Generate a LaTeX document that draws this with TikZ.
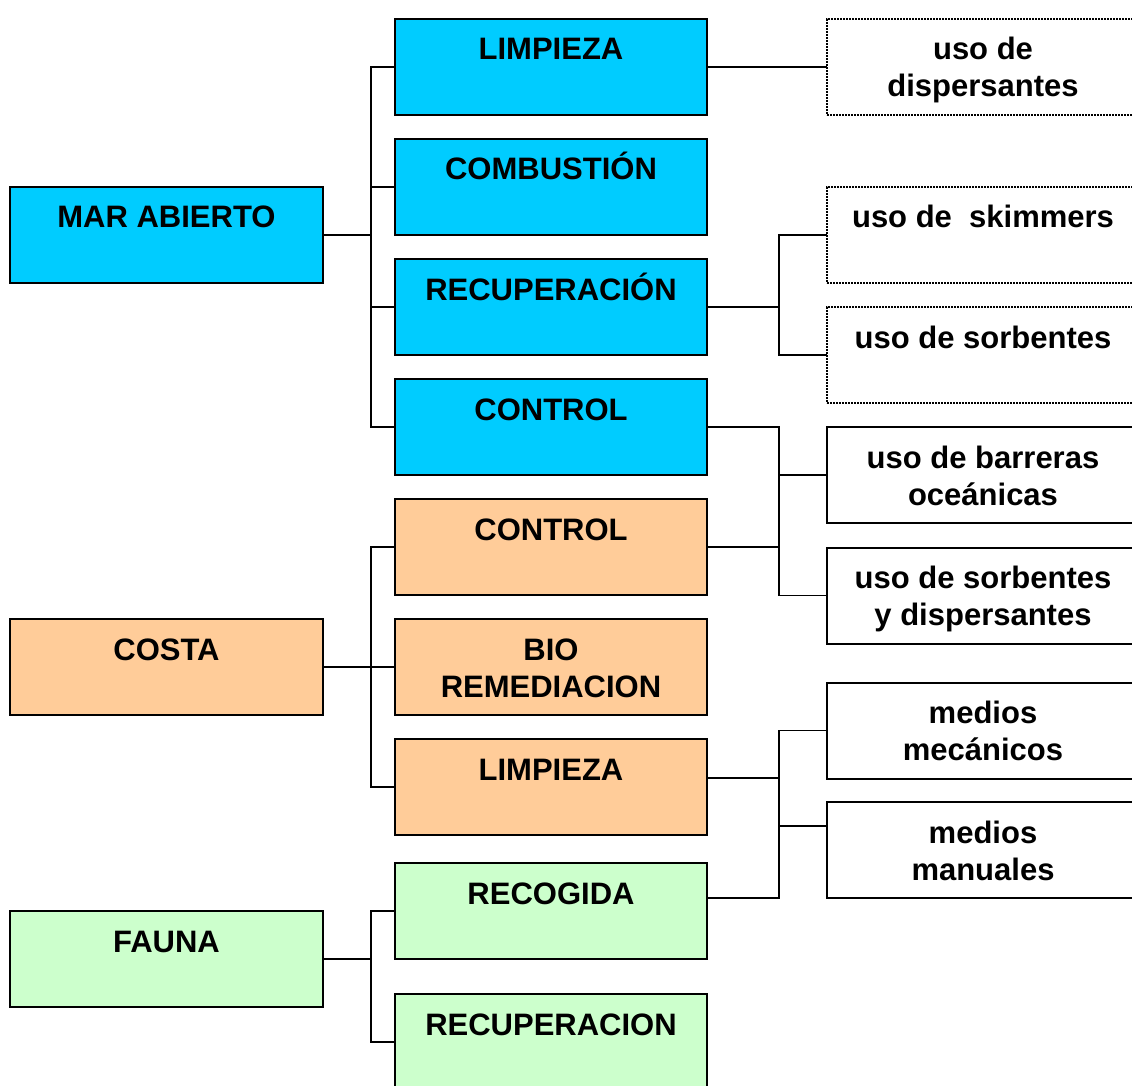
\documentclass[tikz,border=0pt]{standalone}
\usepackage{fontspec}
\setmainfont{Liberation Sans}
\usetikzlibrary{calc}
\definecolor{mblue}{RGB}{0,204,255}
\definecolor{morange}{RGB}{255,204,153}
\definecolor{mgreen}{RGB}{204,255,204}
\tikzset{
  box/.style={draw=black, line width=2pt, minimum width=312pt, minimum height=96pt, inner sep=0pt, outer sep=0pt},
  bluebox/.style={box, fill=mblue},
  orangebox/.style={box, fill=morange},
  greenbox/.style={box, fill=mgreen},
  whitebox/.style={box, fill=white},
  dotbox/.style={draw=black, line width=2pt, dash pattern=on 1.6pt off 1.4pt, fill=white, minimum width=312pt, minimum height=96pt, inner sep=0pt, outer sep=0pt},
  txt/.style={anchor=base, align=center, inner sep=0pt, font=\fontsize{31}{37}\selectfont\bfseries},
  conn/.style={draw=black, line width=1.6pt}
}
\begin{document}
\begin{tikzpicture}[x=1pt,y=-1pt]
\clip (0,0) rectangle (1132,1086);
\fill[white] (0,0) rectangle (1132,1086);
% trunk coordinates
\coordinate (tl) at (371,0);
\coordinate (tr) at (779,0);
% left boxes
\node[bluebox, minimum width=313pt] (ma) at (166.5,235) {};
\node[orangebox, minimum width=313pt] (co) at (166.5,667) {};
\node[greenbox, minimum width=313pt] (fa) at (166.5,959) {};
% middle boxes
\node[bluebox] (m1) at (551,67) {};
\node[bluebox] (m2) at (551,187) {};
\node[bluebox] (m3) at (551,307) {};
\node[bluebox] (m4) at (551,427) {};
\node[orangebox] (m5) at (551,547) {};
\node[orangebox] (m6) at (551,667) {};
\node[orangebox] (m7) at (551,787) {};
\node[greenbox] (m8) at (551,911) {};
\node[greenbox] (m9) at (551,1042) {};
% right boxes
\node[dotbox] (r1) at (983,67) {};
\node[dotbox] (r2) at (983,235) {};
\node[dotbox] (r3) at (983,355) {};
\node[whitebox] (r4) at (983,475) {};
\node[whitebox] (r5) at (983,595.5) {};
\node[whitebox] (r6) at (983,730.5) {};
\node[whitebox] (r7) at (983,850) {};
% texts (base = baseline of last line)
\node[txt] (tma) at ($(ma.north)+(0,41)$) {MAR ABIERTO};
\node[txt] (tco) at ($(co.north)+(0,41)$) {COSTA};
\node[txt] (tfa) at ($(fa.north)+(0,41)$) {FAUNA};
\node[txt] (tm1) at ($(m1.north)+(0,41)$) {LIMPIEZA};
\node[txt] (tm2) at ($(m2.north)+(0,41)$) {COMBUSTIÓN};
\node[txt] (tm3) at ($(m3.north)+(0,41)$) {RECUPERACIÓN};
\node[txt] (tm4) at ($(m4.north)+(0,41)$) {CONTROL};
\node[txt] (tm5) at ($(m5.north)+(0,41)$) {CONTROL};
\node[txt] (tm6) at ($(m6.north)+(0,78)$) {BIO\\REMEDIACION};
\node[txt] (tm7) at ($(m7.north)+(0,41)$) {LIMPIEZA};
\node[txt] (tm8) at ($(m8.north)+(0,41)$) {RECOGIDA};
\node[txt] (tm9) at ($(m9.north)+(0,41)$) {RECUPERACION};
\node[txt] (tr1) at ($(r1.north)+(0,78)$) {uso de\\dispersantes};
\node[txt] (tr2) at ($(r2.north)+(0,41)$) {uso de\ \ skimmers};
\node[txt] (tr3) at ($(r3.north)+(0,41)$) {uso de sorbentes};
\node[txt] (tr4) at ($(r4.north)+(0,78)$) {uso de barreras\\oceánicas};
\node[txt] (tr5) at ($(r5.north)+(0,78)$) {uso de sorbentes\\y dispersantes};
\node[txt] (tr6) at ($(r6.north)+(0,78)$) {medios\\mecánicos};
\node[txt] (tr7) at ($(r7.north)+(0,78)$) {medios\\manuales};
% left connectors
\draw[conn] (ma.east) -- (ma.east -| tl);
\draw[conn] (m1.west) -- (m1.west -| tl) -- (m4.west -| tl) -- (m4.west);
\draw[conn] (m2.west) -- (m2.west -| tl);
\draw[conn] (m3.west) -- (m3.west -| tl);
\draw[conn] (co.east) -- (co.east -| tl);
\draw[conn] (m5.west) -- (m5.west -| tl) -- (m7.west -| tl) -- (m7.west);
\draw[conn] (m6.west) -- (m6.west -| tl);
\draw[conn] (fa.east) -- (fa.east -| tl);
\draw[conn] (m8.west) -- (m8.west -| tl) -- (m9.west -| tl) -- (m9.west);
% right connectors
\draw[conn] (m1.east) -- (r1.west);
\draw[conn] (m3.east) -- (m3.east -| tr);
\draw[conn] (r2.west) -- (r2.west -| tr) -- (r3.west -| tr) -- (r3.west);
\draw[conn] (m4.east) -- (m4.east -| tr) -- (r5.west -| tr) -- (r5.west);
\draw[conn] (m5.east) -- (m5.east -| tr);
\draw[conn] (r4.west) -- (r4.west -| tr);
\coordinate (m7o) at ($(m7.east)+(0,-9)$);
\coordinate (m8o) at ($(m8.east)+(0,-13)$);
\coordinate (r7o) at ($(r7.west)+(0,-24)$);
\draw[conn] (m7o) -- (m7o -| tr);
\draw[conn] (r6.west) -- (r6.west -| tr) -- (m8o -| tr) -- (m8o);
\draw[conn] (r7o) -- (r7o -| tr);
\end{tikzpicture}
\end{document}
